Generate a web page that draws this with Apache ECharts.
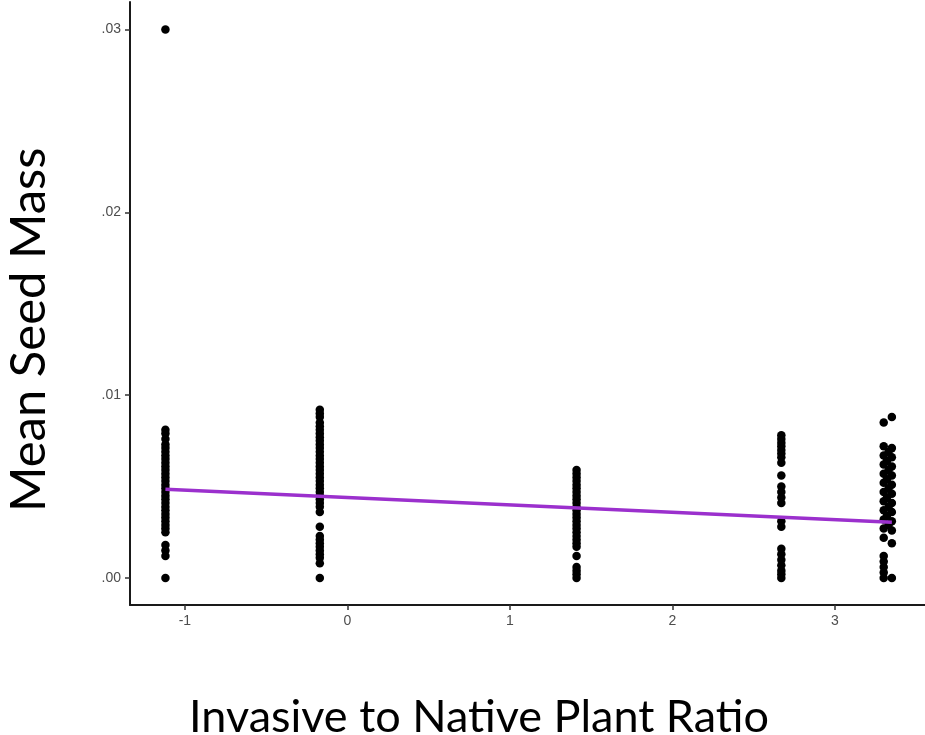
<!DOCTYPE html>
<html>
<head>
<meta charset="utf-8">
<script src="https://cdn.jsdelivr.net/npm/echarts@6/dist/echarts.min.js"></script>
<style>
html,body{margin:0;padding:0;background:#fff;}
#chart{width:925px;height:735px;}
</style>
</head>
<body>
<div id="chart"></div>
<script>
// Cluster x-positions (Invasive to Native Plant Ratio) and mean seed masses
var cluster1X = -1.12;
var cluster1Y = [0.0300, 0.0081, 0.0079, 0.0076, 0.0073, 0.0071, 0.0069, 0.0067, 0.0065, 0.0063, 0.0061,
  0.0059, 0.0057, 0.0055, 0.0053, 0.0051, 0.0049, 0.0047, 0.0045, 0.0043, 0.0041, 0.0039,
  0.0037, 0.0035, 0.0033, 0.0031, 0.0029, 0.0027, 0.0025, 0.0018, 0.0015, 0.0012, 0.0000];

var cluster2X = -0.17;
var cluster2Y = [0.0092, 0.0090, 0.0088, 0.0085, 0.0083, 0.0081, 0.0079, 0.0077, 0.0075, 0.0073, 0.0071,
  0.0069, 0.0067, 0.0065, 0.0063, 0.0061, 0.0059, 0.0057, 0.0055, 0.0053, 0.0051, 0.0049,
  0.0047, 0.0045, 0.0043, 0.0041, 0.0039, 0.0036, 0.0028, 0.0023, 0.0021, 0.0019, 0.0017,
  0.0015, 0.0013, 0.0011, 0.0008, 0.0000];

var cluster3X = 1.41;
var cluster3Y = [0.0059, 0.0057, 0.0055, 0.0053, 0.0051, 0.0049, 0.0047, 0.0045, 0.0043, 0.0041, 0.0039,
  0.0037, 0.0035, 0.0033, 0.0031, 0.0029, 0.0027, 0.0025, 0.0023, 0.0021, 0.0019, 0.0017,
  0.0012, 0.0006, 0.0004, 0.0002, 0.0000];

var cluster4X = 2.67;
var cluster4Y = [0.0078, 0.0076, 0.0074, 0.0072, 0.0070, 0.0068, 0.0066, 0.0063, 0.0056, 0.0050, 0.0047,
  0.0044, 0.0041, 0.0031, 0.0028, 0.0016, 0.0013, 0.0010, 0.0007, 0.0004, 0.0002, 0.0000];

var cluster5X = [3.35, 3.30, 3.30, 3.35, 3.33, 3.30, 3.35, 3.32, 3.30, 3.35, 3.33, 3.30, 3.35, 3.32, 3.30,
  3.35, 3.33, 3.30, 3.35, 3.32, 3.30, 3.35, 3.33, 3.30, 3.35, 3.32, 3.30, 3.35, 3.33, 3.30, 3.35,
  3.30, 3.35, 3.30, 3.30, 3.30, 3.30, 3.30, 3.35];
var cluster5Y = [0.0088, 0.0085, 0.0072, 0.0071, 0.0069, 0.0067, 0.0066, 0.0064, 0.0062, 0.0061, 0.0059,
  0.0057, 0.0056, 0.0054, 0.0052, 0.0051, 0.0049, 0.0047, 0.0046, 0.0044, 0.0042, 0.0041,
  0.0039, 0.0037, 0.0036, 0.0034, 0.0032, 0.0031, 0.0029, 0.0027, 0.0026, 0.0022, 0.0019,
  0.0012, 0.0009, 0.0006, 0.0003, 0.0000, 0.0000];

// Fitted regression line endpoints
var fitX = [-1.12, 3.35];
var fitY = [0.00485, 0.00305];

var xTicks = [-1, 0, 1, 2, 3];
var yTicks = [0, 0.01, 0.02, 0.03];

var points = [];
cluster1Y.forEach(function (v) { points.push([cluster1X, v]); });
cluster2Y.forEach(function (v) { points.push([cluster2X, v]); });
cluster3Y.forEach(function (v) { points.push([cluster3X, v]); });
cluster4Y.forEach(function (v) { points.push([cluster4X, v]); });
cluster5Y.forEach(function (v, i) { points.push([cluster5X[i], v]); });

var fitLine = fitX.map(function (x, i) { return [x, fitY[i]]; });

var chart = echarts.init(document.getElementById('chart'));
var tickLabel = { color: '#4d4d4d', fontSize: 14, fontFamily: 'Liberation Sans, Arial, sans-serif' };
chart.setOption({
  animation: false,
  backgroundColor: '#fff',
  grid: { left: 130, right: 0, top: 2, bottom: 130, containLabel: false },
  xAxis: {
    type: 'value',
    min: -1.338,
    max: 3.554,
    splitLine: { show: false },
    axisLine: { show: true, onZero: false, lineStyle: { color: '#1a1a1a', width: 2 } },
    axisTick: { show: true, customValues: xTicks, length: 5, lineStyle: { color: '#333', width: 1.5 } },
    axisLabel: Object.assign({ customValues: xTicks, margin: 9, formatter: function (v) { return String(v); } }, tickLabel)
  },
  yAxis: {
    type: 'value',
    min: -0.00148,
    max: 0.0315,
    splitLine: { show: false },
    axisLine: { show: true, onZero: false, lineStyle: { color: '#1a1a1a', width: 2 } },
    axisTick: { show: true, customValues: yTicks, length: 5, lineStyle: { color: '#333', width: 1.5 } },
    axisLabel: Object.assign({ customValues: yTicks, margin: 9, formatter: function (v) { return v.toFixed(2).replace(/^0/, ''); } }, tickLabel)
  },
  series: [
    {
      type: 'scatter',
      data: points,
      symbol: 'circle',
      symbolSize: 8.5,
      itemStyle: { color: '#000', opacity: 1 },
      z: 2
    },
    {
      type: 'line',
      data: fitLine,
      symbol: 'none',
      lineStyle: { color: '#9b30cd', width: 3.5 },
      z: 3
    }
  ],
  graphic: [
    {
      type: 'text',
      left: 189, top: 695,
      style: { text: 'Invasive to Native Plant Ratio', fontSize: 45, fontFamily: 'Lato, sans-serif', fill: '#000' }
    },
    {
      type: 'text',
      x: 5, y: 512,
      rotation: Math.PI / 2,
      style: { text: 'Mean Seed Mass', fontSize: 49, fontFamily: 'Lato, sans-serif', fill: '#000', textVerticalAlign: 'top' }
    }
  ]
});
</script>
</body>
</html>
